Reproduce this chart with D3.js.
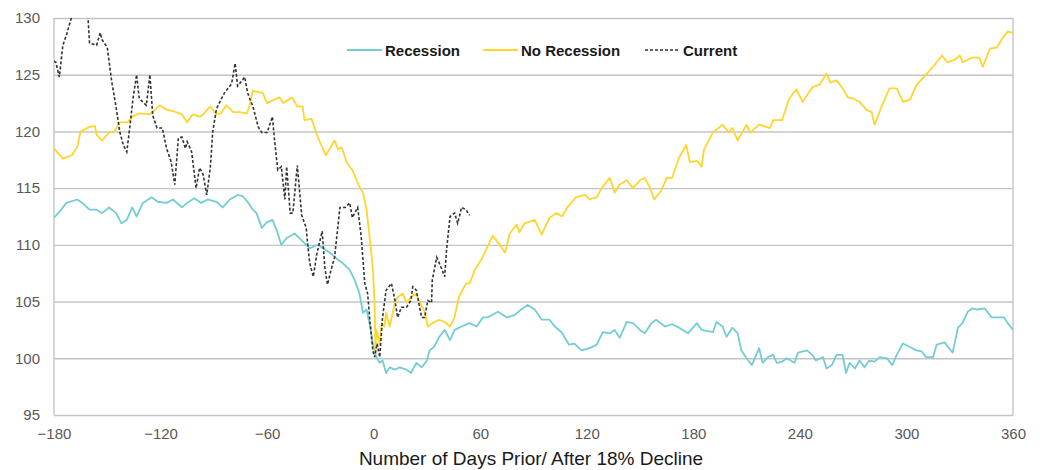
<!DOCTYPE html>
<html>
<head>
<meta charset="utf-8">
<script src="https://cdn.jsdelivr.net/npm/d3@7"></script>
<style>
  body { margin: 0; background: #fff; }
</style>
</head>
<body>
<div id="chart"></div>
<script>
// ── Data ────────────────────────────────────────────────────
const xTicks = [-180, -120, -60, 0, 60, 120, 180, 240, 300, 360];
const yTicks = [95, 100, 105, 110, 115, 120, 125, 130];

const seriesNames = ['Recession', 'No Recession', 'Current'];

// [days from 18% decline, index level]
const recession = [
  [-180,112.4],[-177,112.9],[-173,113.7],[-167,114.0],[-164,113.7],[-160,113.1],[-156,113.1],
  [-153,112.8],[-149,113.3],[-145,112.8],[-142,111.9],[-139,112.2],[-136,113.3],[-133.5,112.5],
  [-130,113.7],[-125,114.2],[-121.6,113.8],[-116.6,113.7],[-113,114.0],[-108,113.3],[-105,113.7],
  [-101,114.1],[-97,113.7],[-93.5,114.0],[-88.5,113.8],[-85,113.3],[-81,114.0],[-76.6,114.4],
  [-73.8,114.3],[-71,113.8],[-68,113.1],[-66,112.8],[-63,111.5],[-60,112.0],[-57,112.2],
  [-54.6,111.3],[-52,110.0],[-49,110.6],[-44.5,111.0],[-40.5,110.4],[-36,109.7],[-31.5,110.0],
  [-26.5,109.5],[-23,109.1],[-21,108.8],[-17.5,108.4],[-13.5,107.8],[-10.7,106.9],[-8,105.7],
  [-6,104.0],[-4,104.3],[-2,102.8],[-0.5,101.3],[1.5,100.1],[3.4,99.6],[5,99.8],[7,98.7],
  [9,99.2],[12,99.0],[14.6,99.2],[18.5,99.0],[21,98.7],[24,99.6],[27,99.2],[30,99.8],
  [31.5,100.7],[34,101.0],[37,101.9],[40,102.5],[43,101.6],[45.6,102.5],[49.5,102.8],[54,103.1],
  [58,102.8],[61.5,103.6],[64,103.6],[70,104.1],[75,103.6],[79.4,103.8],[83,104.3],[86.7,104.7],
  [90.7,104.3],[94.6,103.4],[99,103.4],[102,102.8],[105.8,102.3],[110,101.2],[113,101.3],
  [117,100.7],[121.6,100.9],[125.6,101.2],[129,102.3],[133,102.2],[135.7,102.5],[138.5,101.8],
  [142.5,103.2],[146,103.1],[150,102.5],[152.6,102.2],[156.5,103.1],[159,103.4],[164,102.8],
  [168,103.0],[172,102.7],[177,102.2],[182,103.1],[184.7,102.5],[191,102.3],[193,103.2],
  [196.5,102.8],[198.7,101.9],[202,102.7],[205,102.2],[207,100.7],[210,100.0],[213,99.4],
  [217,100.9],[219,99.6],[222,100.1],[225,100.3],[227,99.6],[230,99.7],[232.6,100.0],[237,99.6],
  [239,100.5],[244,100.7],[247,100.3],[249,99.8],[253,100.1],[255,99.1],[258,99.4],[260.6,100.3],
  [264,100.3],[266,98.7],[268,99.6],[271,99.1],[273.6,99.8],[276.5,99.2],[279,99.8],[282,99.7],
  [285,100.1],[289,100.0],[292,99.4],[294.5,100.3],[298,101.3],[302,101.0],[305.7,100.7],
  [308.6,100.6],[311,100.1],[315,100.1],[317,101.2],[321.5,101.4],[324,100.9],[326,100.5],
  [329,102.7],[331.6,103.1],[334.5,104.1],[337,104.4],[340,104.3],[344,104.4],[348,103.6],
  [351,103.6],[355,103.6],[357,103.1],[360,102.5]
];

const noRecession = [
  [-180,118.5],[-175,117.6],[-170,117.9],[-167,118.6],[-165,120.0],[-160,120.4],[-157,120.5],
  [-156,119.7],[-153,119.2],[-149,119.9],[-146,120.0],[-143,120.8],[-138.5,120.8],[-136,121.3],
  [-132,121.6],[-126,121.5],[-120.5,122.3],[-116.5,121.9],[-113,121.8],[-108,121.5],[-105,120.8],
  [-102,121.5],[-98,121.3],[-96,121.5],[-92,122.2],[-88.5,121.5],[-86,121.6],[-83,122.3],
  [-79,121.7],[-75.5,121.7],[-71.5,121.6],[-70,122.2],[-68,123.6],[-66,123.5],[-62.5,123.4],
  [-60,122.5],[-56,122.8],[-53,123.0],[-51,122.5],[-46,123.0],[-43,122.2],[-40,122.2],[-39,121.0],
  [-35,121.1],[-32,119.7],[-27,117.9],[-25,118.4],[-22,119.2],[-20,118.4],[-18,118.6],[-15,117.2],
  [-12,116.6],[-8,115.1],[-6,114.6],[-4,113.1],[-2.3,110.7],[-0.5,108.0],[0.5,104.9],[1,100.5],
  [1.5,102.5],[3.4,101.3],[4.5,103.1],[6,102.8],[7,104.0],[9,102.8],[12,104.9],[13.5,105.4],
  [16.5,105.7],[18.5,104.9],[21,105.4],[24,105.7],[26,104.9],[29,104.0],[30.5,102.8],[33,103.1],
  [37,103.4],[40,103.2],[43,102.8],[45.5,103.6],[48,105.4],[52,106.6],[54,106.6],[57,107.8],
  [61,108.8],[64,109.8],[67,110.8],[71,110.0],[74,109.3],[76.6,111.0],[80.5,111.8],[82,111.1],
  [85,111.9],[90.7,112.2],[94.6,110.9],[99,112.4],[103,112.8],[106,112.5],[109,113.3],[114,114.2],
  [119,114.4],[121.6,114.0],[125.6,114.2],[128.4,115.0],[133,115.9],[135.7,114.6],[138.5,115.3],
  [142.5,115.7],[146,115.0],[150,115.7],[152.6,115.9],[155.4,115.1],[158,114.0],[162,114.8],
  [165,115.9],[168,115.9],[172,117.7],[176,118.8],[178,117.3],[182,117.4],[184.7,116.9],
  [186,118.4],[191,119.9],[196.5,120.6],[200,119.9],[202,120.3],[205,119.2],[210,120.6],
  [212,119.9],[217,120.6],[223,120.3],[225,121.0],[230,121.0],[234,122.9],[238,123.7],
  [241.5,122.6],[244,123.2],[247,123.9],[251,124.1],[255,125.1],[257,124.3],[260.6,124.5],
  [264,123.8],[267,123.0],[270,122.9],[273.6,122.6],[277.6,121.9],[280.4,121.7],[282,120.6],
  [286,122.2],[290.5,123.8],[294.5,123.8],[298,122.6],[302,122.8],[305.7,124.1],[311,125.0],
  [315,125.7],[320,126.7],[323,126.1],[327,126.3],[330,126.7],[331.6,126.1],[336.7,126.5],
  [341,126.5],[343,125.7],[347,127.3],[351,127.4],[353.6,128.1],[357,128.8],[360,128.7]
];

const current = [
  [-180,126.2],[-179,126.1],[-177,124.8],[-175,127.6],[-173,128.5],[-171,129.6],[-169,130.6],
  [-165,131.0],[-161,130.4],[-160,127.8],[-156,127.6],[-154,128.7],[-153,128.1],[-150,127.4],
  [-147.5,124.4],[-145,122.1],[-143,120.0],[-141,118.8],[-139,118.2],[-137,120.8],[-135.5,122.9],
  [-133.5,125.0],[-132,122.9],[-130,122.6],[-128,122.3],[-126,125.0],[-124.4,121.4],[-122,120.3],
  [-119,120.3],[-116.6,118.5],[-114,117.3],[-112,115.3],[-110,119.4],[-108,119.5],[-106,118.5],
  [-105,119.1],[-102.5,118.2],[-100,115.0],[-98,116.8],[-96,116.2],[-94,114.4],[-92,116.8],
  [-90.6,120.0],[-88.5,122.0],[-86,122.8],[-84,123.4],[-80,124.2],[-78,126.0],[-76.6,124.0],
  [-72.6,124.8],[-71,123.4],[-68,122.2],[-65,120.4],[-63,119.9],[-60,119.9],[-57,121.3],
  [-56,119.5],[-54,116.6],[-52,116.9],[-50,114.0],[-49,116.9],[-47,112.8],[-45.5,112.8],
  [-43,117.0],[-40.5,112.6],[-38,111.5],[-37,109.8],[-36,108.4],[-34,107.2],[-32,109.2],
  [-29,111.2],[-27.5,108.0],[-26,106.5],[-24,107.8],[-22,108.9],[-19,113.3],[-16,113.3],
  [-13.5,113.7],[-12,112.4],[-9,113.3],[-7,110.7],[-5,106.6],[-3.4,105.7],[-2,103.1],
  [-1.2,101.9],[-0.5,100.7],[0.5,100.1],[2,101.3],[3.4,100.1],[5,103.6],[7,106.0],[10,106.6],
  [12,105.1],[13.5,103.6],[15.6,104.5],[18.5,104.5],[21,105.1],[22,106.3],[24,106.0],[27,103.6],
  [28.7,103.6],[30.5,105.1],[32.6,104.9],[33,106.9],[35.5,108.9],[38,108.0],[40,107.2],
  [41,109.5],[43,112.5],[45.6,112.8],[47.3,111.9],[49.5,113.3],[52,113.1],[54,112.6]
];

// ── Chart setup ─────────────────────────────────────────────
const width = 1040, height = 470;
const margin = { top: 18, right: 27, bottom: 55, left: 54 };
const innerW = width - margin.left - margin.right;
const innerH = height - margin.top - margin.bottom;

const colors = { 'Recession': '#73cdd3', 'No Recession': '#ffd52e', 'Current': '#333333' };
const gridColor = '#c4c4c4';

const svg = d3.select('#chart')
  .append('svg')
  .attr('width', width)
  .attr('height', height);

const g = svg.append('g')
  .attr('transform', `translate(${margin.left},${margin.top})`);

const x = d3.scaleLinear().domain([-180, 360]).range([0, innerW]);
const y = d3.scaleLinear().domain([95, 130]).range([innerH, 0]);

svg.append('defs').append('clipPath')
  .attr('id', 'plot-clip')
  .append('rect')
  .attr('width', innerW).attr('height', innerH);

// ── Gridlines + frame ───────────────────────────────────────
g.append('g')
  .call(d3.axisLeft(y).tickValues(yTicks).tickSize(-innerW).tickFormat(''))
  .call(a => a.select('.domain').remove())
  .selectAll('line')
  .attr('stroke', gridColor)
  .attr('stroke-width', 1.4);

g.append('line')
  .attr('x1', 0).attr('x2', 0).attr('y1', 0).attr('y2', innerH)
  .attr('stroke', gridColor).attr('stroke-width', 1.4);
g.append('line')
  .attr('x1', innerW).attr('x2', innerW).attr('y1', 0).attr('y2', innerH)
  .attr('stroke', gridColor).attr('stroke-width', 1.4);

// ── Axes labels ─────────────────────────────────────────────
const yAxis = g.append('g')
  .call(d3.axisLeft(y).tickValues(yTicks).tickSize(0).tickPadding(14));
yAxis.select('.domain').remove();
yAxis.selectAll('text')
  .attr('fill', '#595959')
  .attr('font-size', '15px')
  .attr('font-family', 'Liberation Sans, Arial, sans-serif');

const xAxis = g.append('g')
  .attr('transform', `translate(0,${innerH})`)
  .call(d3.axisBottom(x).tickValues(xTicks).tickSize(0).tickPadding(13));
xAxis.select('.domain').remove();
xAxis.selectAll('text')
  .attr('fill', '#595959')
  .attr('font-size', '15px')
  .attr('font-family', 'Liberation Sans, Arial, sans-serif');

svg.append('text')
  .attr('x', 531)
  .attr('y', 465)
  .attr('text-anchor', 'middle')
  .attr('fill', '#1a1a1a')
  .attr('font-size', '19px')
  .attr('font-family', 'Liberation Sans, Arial, sans-serif')
  .text('Number of Days Prior/ After 18% Decline');

// ── Lines ───────────────────────────────────────────────────
const line = d3.line()
  .x(d => x(d[0]))
  .y(d => y(d[1]));

const lines = g.append('g').attr('clip-path', 'url(#plot-clip)');

lines.append('path')
  .datum(recession)
  .attr('fill', 'none')
  .attr('stroke', colors['Recession'])
  .attr('stroke-width', 1.8)
  .attr('stroke-linejoin', 'round')
  .attr('d', line);

lines.append('path')
  .datum(noRecession)
  .attr('fill', 'none')
  .attr('stroke', colors['No Recession'])
  .attr('stroke-width', 1.8)
  .attr('stroke-linejoin', 'round')
  .attr('d', line);

lines.append('path')
  .datum(current)
  .attr('fill', 'none')
  .attr('stroke', colors['Current'])
  .attr('stroke-width', 1.6)
  .attr('stroke-dasharray', '3,2')
  .attr('d', line);

// ── Legend ──────────────────────────────────────────────────
const legendX = [347, 483, 645];
const legend = svg.append('g').attr('transform', 'translate(0,50)');

seriesNames.forEach((name, i) => {
  legend.append('line')
    .attr('x1', legendX[i]).attr('x2', legendX[i] + 35)
    .attr('y1', 0).attr('y2', 0)
    .attr('stroke', colors[name])
    .attr('stroke-width', name === 'Current' ? 1.3 : 1.8)
    .attr('stroke-dasharray', name === 'Current' ? '3,2' : null);

  legend.append('text')
    .attr('x', legendX[i] + 38)
    .attr('y', 5.5)
    .attr('fill', '#1a1a1a')
    .attr('font-size', '15px')
    .attr('font-weight', 'bold')
    .attr('font-family', 'Liberation Sans, Arial, sans-serif')
    .text(name);
});
</script>
</body>
</html>
